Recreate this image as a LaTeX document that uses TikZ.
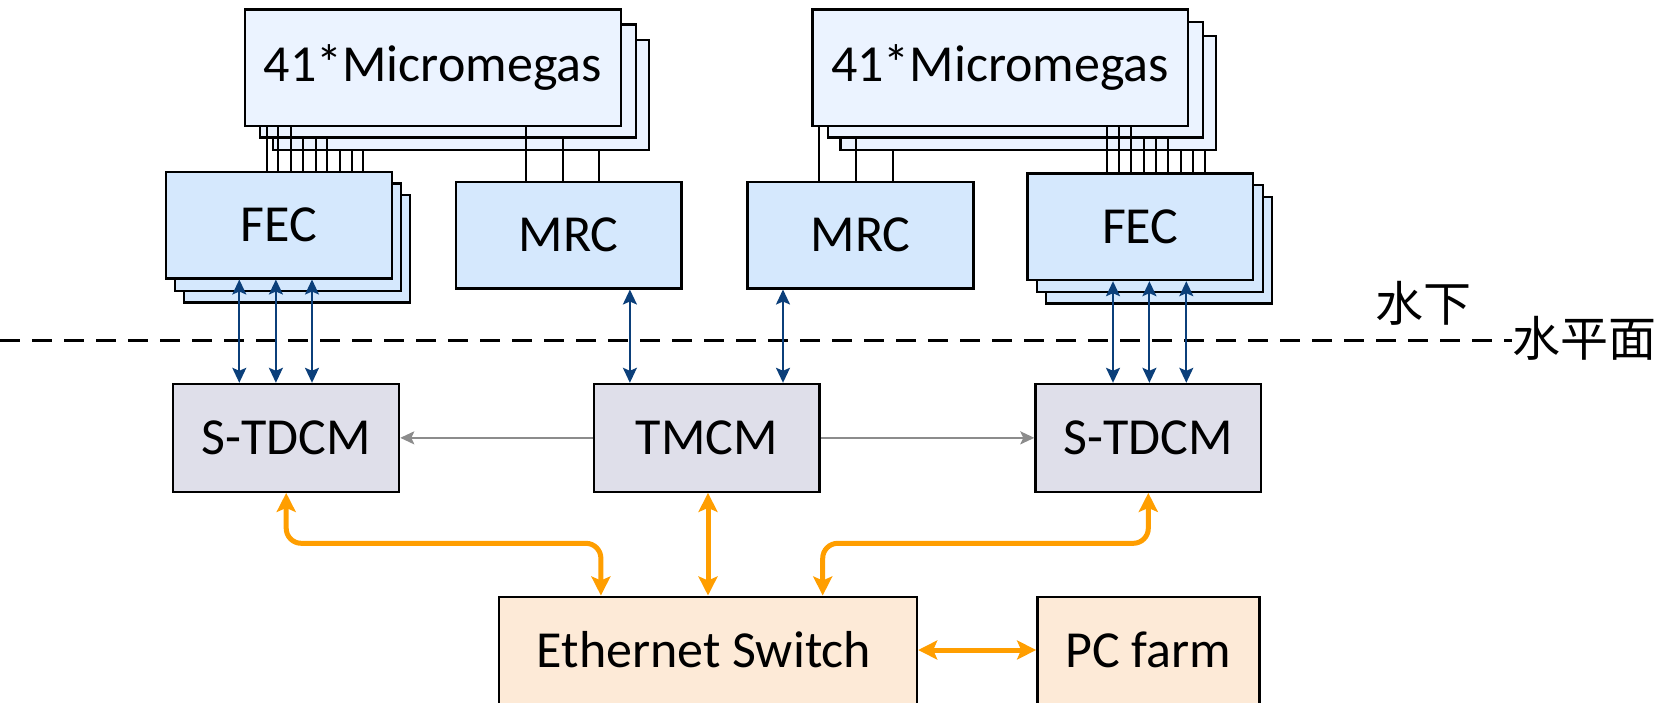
\documentclass[tikz,border=0pt]{standalone}
\usepackage{fontspec}
\setmainfont{Carlito}
\newfontfamily\cjkfont{Noto Sans CJK SC}
\usetikzlibrary{arrows.meta,fit}
\definecolor{mmfill}{HTML}{EBF3FF}
\definecolor{fecfill}{HTML}{D5E8FD}
\definecolor{tdfill}{HTML}{DFDFEA}
\definecolor{ethfill}{HTML}{FDEAD7}
\definecolor{darkblue}{HTML}{0B3F7A}
\definecolor{orangeline}{HTML}{FF9E00}
\definecolor{grayline}{HTML}{8C8C8C}
\begin{document}
\begin{tikzpicture}[x=0.5pt,y=-0.5pt,
  box/.style={draw=black, line width=1.2pt, inner sep=0pt},
  every label/.style={inner sep=0pt, font=\fontsize{26}{31}\selectfont},
  mmbox/.style={box, fill=mmfill},
  febox/.style={box, fill=fecfill},
  tdbox/.style={box, fill=tdfill},
  ethbox/.style={box, fill=ethfill},
  wire/.style={draw=black, line width=1pt},
  bluearr/.style={draw=darkblue, line width=1pt,
    {Stealth[length=7.5pt,width=7pt,inset=1.5pt]}-{Stealth[length=7.5pt,width=7pt,inset=1.5pt]}},
  grayarr/.style={draw=grayline, line width=1pt, -{Stealth[length=7pt,width=6.5pt,inset=1.5pt]}},
  orarr/.style={draw=orangeline, line width=2.5pt, rounded corners=7.5pt,
    {Stealth[length=9.5pt,width=9.5pt,inset=2pt]}-{Stealth[length=9.5pt,width=9.5pt,inset=2pt]}},
  cjk/.style={inner sep=0pt, font=\cjkfont\fontsize{24}{28}\selectfont},
  dashline/.style={draw=black, line width=1.5pt, dash pattern=on 10pt off 6pt},
]
\useasboundingbox (0,0) rectangle (1671,702);
\clip (0,0) rectangle (1671,702);

% Micromegas stacks
\node[mmbox, fit={(272.7,40) (649,150)}] (mm1c) {};
\node[mmbox, fit={(260,24.3) (636,137.3)}] (mm1b) {};
\node[mmbox, fit={(245,9.3) (620.7,125.7)}, label=center:{41*Micromegas}] (mm1) {};
\node[mmbox, fit={(840.6,36) (1216.2,150)}] (mm2c) {};
\node[mmbox, fit={(827.8,22) (1203.2,137.3)}] (mm2b) {};
\node[mmbox, fit={(812.3,9.3) (1187.7,125.7)}, label=center:{41*Micromegas}] (mm2) {};

% FEC stacks
\node[febox, fit={(184,195) (410,302.3)}] (fec1c) {};
\node[febox, fit={(175,183.3) (400.7,290.7)}] (fec1b) {};
\node[febox, fit={(165.7,171.7) (391.7,278.3)}, label=center:FEC] (fec1) {};
\node[febox, fit={(1045.8,197) (1272,303.3)}] (fec2c) {};
\node[febox, fit={(1036.8,185) (1262.7,291.7)}] (fec2b) {};
\node[febox, fit={(1027.5,173.3) (1253,280)}, label=center:FEC] (fec2) {};

% MRC
\node[febox, fit={(456,181.7) (681.3,288.3)}, label=center:MRC] (mrc1) {};
\node[febox, fit={(747.6,181.7) (973.5,288.3)}, label=center:MRC] (mrc2) {};

% wires Micromegas -> FEC
\foreach \x in {266.7,278.3,290.7} \draw[wire] (\x,0 |- mm1.south) -- (\x,0 |- fec1.north);
\foreach \x in {303.3,315.7,327.3} \draw[wire] (\x,0 |- mm1b.south) -- (\x,0 |- fec1.north);
\foreach \x in {340,351.7,363.3} \draw[wire] (\x,0 |- mm1c.south) -- (\x,0 |- fec1.north);
\foreach \x in {1106.7,1118.8,1130.8} \draw[wire] (\x,0 |- mm2.south) -- (\x,0 |- fec2.north);
\foreach \x in {1143.6,1156,1168} \draw[wire] (\x,0 |- mm2b.south) -- (\x,0 |- fec2.north);
\foreach \x in {1180.8,1192.8,1204.9} \draw[wire] (\x,0 |- mm2c.south) -- (\x,0 |- fec2.north);
% wires Micromegas -> MRC
\draw[wire] (526,0 |- mm1.south) -- (526,0 |- mrc1.north);
\draw[wire] (562.7,0 |- mm1b.south) -- (562.7,0 |- mrc1.north);
\draw[wire] (599.3,0 |- mm1c.south) -- (599.3,0 |- mrc1.north);
\draw[wire] (819.2,0 |- mm2.south) -- (819.2,0 |- mrc2.north);
\draw[wire] (856,0 |- mm2b.south) -- (856,0 |- mrc2.north);
\draw[wire] (892.5,0 |- mm2c.south) -- (892.5,0 |- mrc2.north);

% lower boxes
\node[tdbox, fit={(173.2,384) (399.1,491.7)}, label=center:S-TDCM] (std1) {};
\node[tdbox, fit={(594.2,384) (819.6,491.7)}, label=center:TMCM] (tmcm) {};
\node[tdbox, fit={(1035.5,384) (1260.7,491.7)}, label=center:S-TDCM] (std2) {};
\node[ethbox, fit={(499.2,596.7) (917,704)}] (eth) {};
\node[ethbox, fit={(1037.3,596.7) (1259.5,704)}] (pc) {};
\node[inner sep=0pt, font=\fontsize{26}{31}\selectfont] (ethtext) at (704,650) {Ethernet Switch};
\node[inner sep=0pt, font=\fontsize{26}{31}\selectfont] (pctext) at (1148,650) {PC farm};

% water surface
\node[cjk] (sx) at (1423,303) {水下};
\node[cjk] (spm) at (1584,338) {水平面};
\coordinate (wl) at (0,340);
\draw[dashline] (wl) -- (spm.west |- wl);

% blue links
\foreach \x in {239.3,275.9,312} \draw[bluearr] (\x,0 |- fec1.south) -- (\x,0 |- std1.north);
\foreach \x in {1113,1149.4,1186.3} \draw[bluearr] (\x,0 |- fec2.south) -- (\x,0 |- std2.north);
\draw[bluearr] (629.9,0 |- mrc1.south) -- (629.9,0 |- tmcm.north);
\draw[bluearr] (783,0 |- mrc2.south) -- (783,0 |- tmcm.north);

% gray links
\draw[grayarr] (tmcm.west) -- (std1.east);
\draw[grayarr] (tmcm.east) -- (std2.west);

% orange links
\draw[orarr] (286.2,0 |- std1.south) -- (286.2,543.3) -- (600.9,543.3) -- (600.9,0 |- eth.north);
\draw[orarr] (708,0 |- tmcm.south) -- (708,0 |- eth.north);
\draw[orarr] (1148.3,0 |- std2.south) -- (1148.3,543.3) -- (822.7,543.3) -- (822.7,0 |- eth.north);
\draw[orarr] (eth.east |- ethtext) -- (pc.west |- ethtext);
\end{tikzpicture}
\end{document}
